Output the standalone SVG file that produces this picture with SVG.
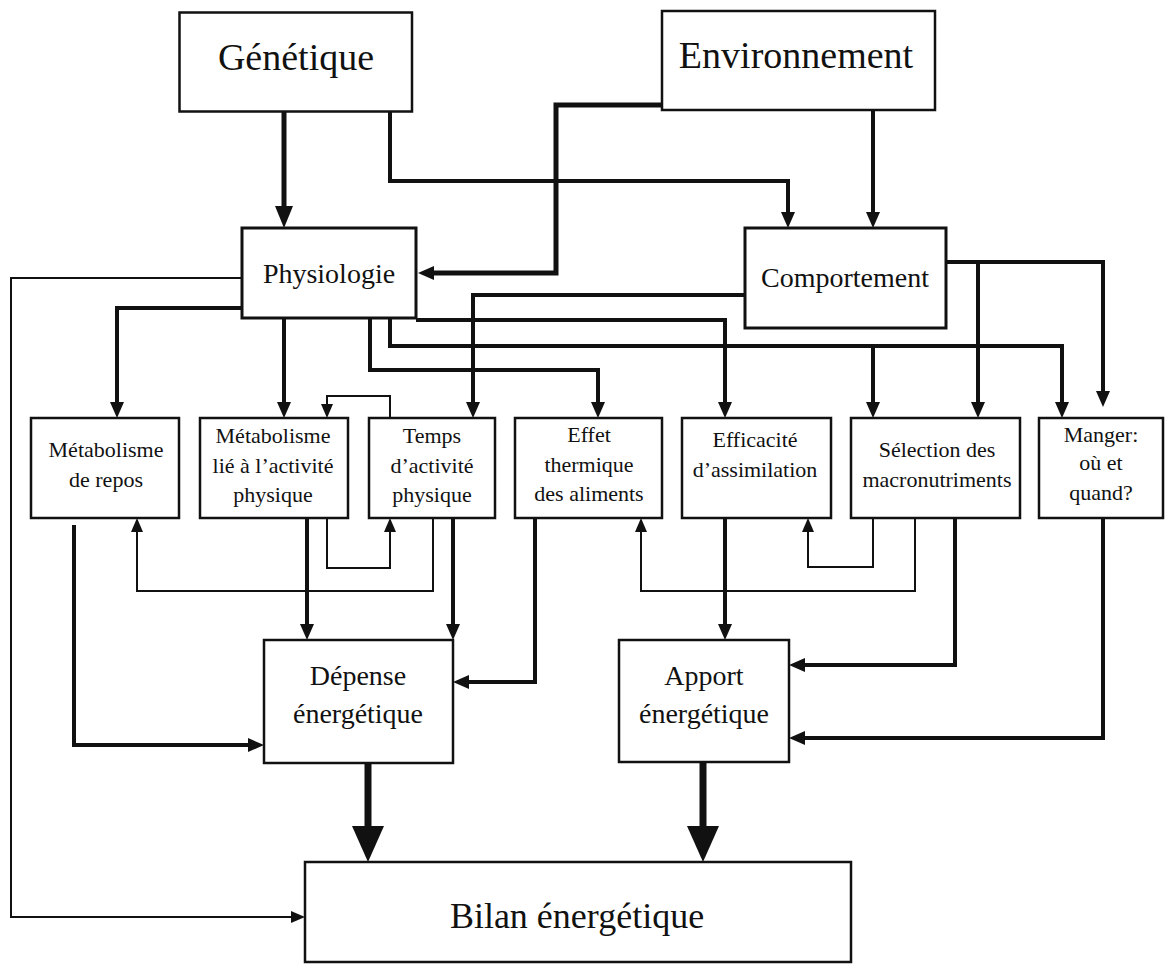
<svg xmlns="http://www.w3.org/2000/svg" width="1166" height="965" viewBox="0 0 1166 965">
<style>
.box{fill:#fff;stroke:#111;stroke-width:2.5}
.t{font-family:"Liberation Serif","Times New Roman",serif;fill:#111;text-anchor:middle}
.t38{font-size:38px}
.t28{font-size:28px}
.t36{font-size:36px}
.t22{font-size:22px}
.c{fill:none;stroke:#111;stroke-width:4;stroke-linejoin:miter}
.thin{stroke-width:2}
.heavy{stroke-width:5}
.big{stroke-width:7}
</style>
<defs>
<marker id="a" markerUnits="userSpaceOnUse" markerWidth="16" markerHeight="14" refX="6" refY="7" orient="auto"><path d="M0,0 L16,7 L0,14 z" fill="#111"/></marker>
<marker id="at" markerUnits="userSpaceOnUse" markerWidth="14" markerHeight="12" refX="4" refY="6" orient="auto"><path d="M0,0 L14,6 L0,12 z" fill="#111"/></marker>
<marker id="ag" markerUnits="userSpaceOnUse" markerWidth="22" markerHeight="18" refX="10" refY="9" orient="auto"><path d="M0,0 L22,9 L0,18 z" fill="#111"/></marker>
<marker id="ab" markerUnits="userSpaceOnUse" markerWidth="36" markerHeight="32" refX="20" refY="16" orient="auto"><path d="M0,0 L36,16 L0,32 z" fill="#111"/></marker>
</defs>

<g id="connectors">
<path class="c heavy" d="M284,112 V216" marker-end="url(#ag)"/>
<path class="c" d="M390,112 V181 H788 V218" marker-end="url(#a)"/>
<path class="c heavy" d="M662,105 H556 V273 H428" marker-end="url(#a)"/>
<path class="c" d="M873,110 V218" marker-end="url(#a)"/>
<path class="c thin" d="M242,278 H11 V917 H295" marker-end="url(#at)"/>
<path class="c" d="M242,308 H117 V408" marker-end="url(#a)"/>
<path class="c" d="M284,318 V408" marker-end="url(#a)"/>
<path class="c" d="M370,318 V370 H598 V408" marker-end="url(#a)"/>
<path class="c" d="M390,318 V346 H1062 V408" marker-end="url(#a)"/>
<path class="c" d="M873,346 V408" marker-end="url(#a)"/>
<path class="c" d="M416,320 H725 V408" marker-end="url(#a)"/>
<path class="c" d="M745,295 H473 V408" marker-end="url(#a)"/>
<path class="c" d="M946,262 H1103 V397" marker-end="url(#a)"/>
<path class="c" d="M978,262 V408" marker-end="url(#a)"/>
<path class="c thin" d="M433,518 V591 H137 V528" marker-end="url(#at)"/>
<path class="c thin" d="M327,518 V568 H390 V528" marker-end="url(#at)"/>
<path class="c thin" d="M390,418 V396 H327 V408" marker-end="url(#at)"/>
<path class="c thin" d="M915,518 V591 H641 V528" marker-end="url(#at)"/>
<path class="c thin" d="M873,518 V567 H808 V528" marker-end="url(#at)"/>
<path class="c" d="M307,518 V630" marker-end="url(#a)"/>
<path class="c" d="M453,518 V630" marker-end="url(#a)"/>
<path class="c" d="M535,518 V682 H463" marker-end="url(#a)"/>
<path class="c" d="M74,525 V745 H254" marker-end="url(#a)"/>
<path class="c" d="M725,518 V630" marker-end="url(#a)"/>
<path class="c" d="M955,518 V665 H799" marker-end="url(#a)"/>
<path class="c" d="M1103,518 V738 H799" marker-end="url(#a)"/>
<path class="c big" d="M368,763 V846" marker-end="url(#ab)"/>
<path class="c big" d="M703,762 V846" marker-end="url(#ab)"/>
</g>

<g id="genetique"><rect class="box" x="179.5" y="12.5" width="232.5" height="99"/><text class="t t38" x="296" y="70">Génétique</text></g>
<g id="environnement"><rect class="box" x="662" y="11" width="273" height="99"/><text class="t t38" x="796" y="68">Environnement</text></g>
<g id="physiologie"><rect class="box" x="242" y="228" width="174" height="90" style="stroke-width:3"/><text class="t t28" x="329" y="283">Physiologie</text></g>
<g id="comportement"><rect class="box" x="745" y="228" width="201" height="100" style="stroke-width:3"/><text class="t t28" x="845" y="287">Comportement</text></g>

<g id="metabolisme-repos"><rect class="box" x="31" y="418" width="148" height="100"/><text class="t t22" x="106" y="457">Métabolisme</text><text class="t t22" x="106" y="487">de repos</text></g>
<g id="metabolisme-activite"><rect class="box" x="200" y="418" width="148" height="100"/><text class="t t22" x="273" y="443">Métabolisme</text><text class="t t22" x="273" y="473">lié à l’activité</text><text class="t t22" x="273" y="502">physique</text></g>
<g id="temps-activite"><rect class="box" x="369" y="418" width="126" height="100"/><text class="t t22" x="432" y="443">Temps</text><text class="t t22" x="432" y="473">d’activité</text><text class="t t22" x="432" y="502">physique</text></g>
<g id="effet-thermique"><rect class="box" x="515" y="418" width="147" height="100"/><text class="t t22" x="589" y="442">Effet</text><text class="t t22" x="589" y="472">thermique</text><text class="t t22" x="589" y="501">des aliments</text></g>
<g id="efficacite"><rect class="box" x="682" y="418" width="149" height="100"/><text class="t t22" x="755" y="447">Efficacité</text><text class="t t22" x="755" y="477">d’assimilation</text></g>
<g id="selection"><rect class="box" x="851" y="418" width="169" height="100"/><text class="t t22" x="937" y="457">Sélection des</text><text class="t t22" x="937" y="487">macronutriments</text></g>
<g id="manger"><rect class="box" x="1039" y="418" width="124" height="100"/><text class="t t22" x="1101" y="442">Manger:</text><text class="t t22" x="1101" y="470">où et</text><text class="t t22" x="1101" y="500">quand?</text></g>

<g id="depense"><rect class="box" x="264" y="640" width="189" height="123"/><text class="t t28" x="358" y="685">Dépense</text><text class="t t28" x="358" y="723">énergétique</text></g>
<g id="apport"><rect class="box" x="619" y="640" width="170" height="122"/><text class="t t28" x="704" y="685">Apport</text><text class="t t28" x="704" y="723">énergétique</text></g>
<g id="bilan"><rect class="box" x="305" y="862" width="546" height="100"/><text class="t t36" x="577" y="928">Bilan énergétique</text></g>
</svg>
